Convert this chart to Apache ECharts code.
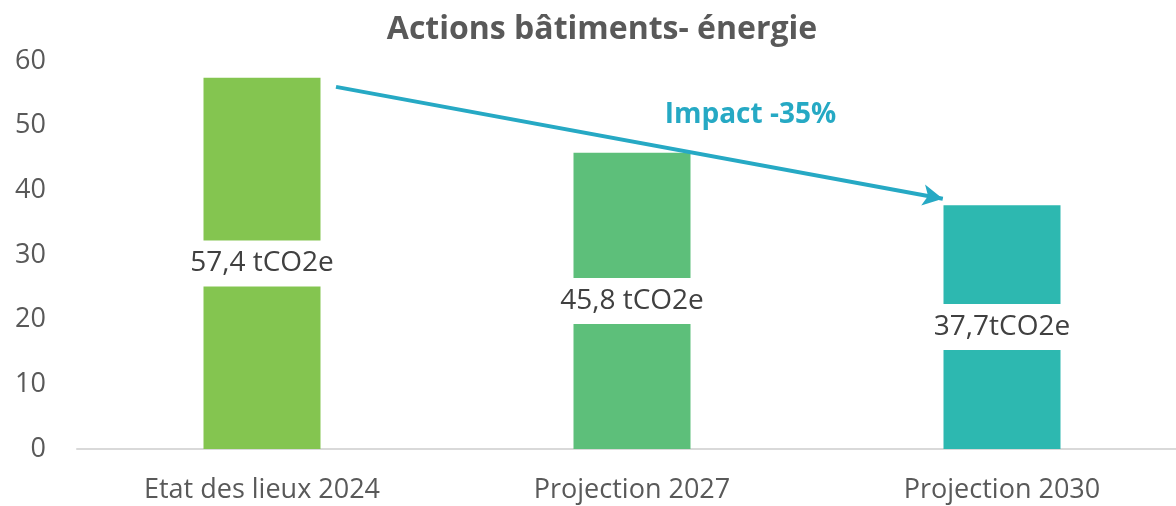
<!DOCTYPE html>
<html>
<head>
<meta charset="utf-8">
<script src="https://cdn.jsdelivr.net/npm/echarts@6/dist/echarts.min.js"></script>
<style>
  html, body { margin: 0; padding: 0; background: #fff; overflow: hidden; }
  /* la zone de tracé déborde légèrement à droite, comme dans l'original */
  #chart { width: 1187px; height: 506px; }
</style>
</head>
<body>
<div id="chart"></div>
<script>
  // données
  var categories = ['Etat des lieux 2024', 'Projection 2027', 'Projection 2030'];
  var values = [57.4, 45.8, 37.7];
  var valueLabels = ['57,4 tCO2e', '45,8 tCO2e', '37,7tCO2e'];
  var barColors = ['#84C550', '#5DBF7A', '#2DB8B0'];
  var arrowFrom = [0.2, 56.0];
  var arrowTo = [1.84, 38.7];
  var impactText = 'Impact -35%';
  var impactPos = [1.32, 51.6];

  var font = '"Open Sans", sans-serif';
  var myChart = echarts.init(document.getElementById('chart'));

  var option = {
    animation: false,
    title: {
      text: 'Actions bâtiments- énergie',
      left: 597,
      top: 9,
      textAlign: 'center',
      textStyle: { fontFamily: font, fontSize: 32, fontWeight: 'bold', color: '#595959' }
    },
    grid: { left: 77, top: 61, right: 0, bottom: 57 },
    xAxis: [{
      type: 'category',
      data: categories,
      axisTick: { show: false },
      axisLine: { lineStyle: { color: '#D9D9D9', width: 2 } },
      axisLabel: { fontFamily: font, fontSize: 27, color: '#595959', margin: 28 }
    }, {
      type: 'value',
      min: -0.5,
      max: 2.5,
      show: false
    }],
    yAxis: {
      type: 'value',
      min: 0,
      max: 60,
      interval: 10,
      splitLine: { show: false },
      axisLine: { show: false },
      axisTick: { show: false },
      axisLabel: { fontFamily: font, fontSize: 27, color: '#595959', margin: 31 }
    },
    series: [{
      type: 'bar',
      barWidth: 117,
      data: values.map(function (v, i) {
        return {
          value: v,
          itemStyle: { color: barColors[i] },
          label: { formatter: valueLabels[i] }
        };
      }),
      label: {
        show: true,
        position: 'inside',
        fontFamily: font,
        fontSize: 28,
        color: '#404040',
        backgroundColor: '#fff',
        padding: [9, 4, 9, 4]
      }
    }, {
      type: 'line',
      xAxisIndex: 1,
      data: [],
      markLine: {
        silent: true,
        symbol: ['none', 'arrow'],
        symbolSize: [16, 20],
        lineStyle: { color: '#26A9C4', width: 4, type: 'solid' },
        label: { show: false },
        data: [[{ coord: arrowFrom }, { coord: arrowTo }]]
      },
      markPoint: {
        silent: true,
        symbol: 'circle',
        symbolSize: 0,
        label: {
          show: true,
          position: 'inside',
          formatter: impactText,
          fontFamily: font,
          fontSize: 28,
          fontWeight: 'bold',
          color: '#26A9C4'
        },
        data: [{ coord: impactPos }]
      }
    }]
  };

  myChart.setOption(option);
</script>
</body>
</html>
